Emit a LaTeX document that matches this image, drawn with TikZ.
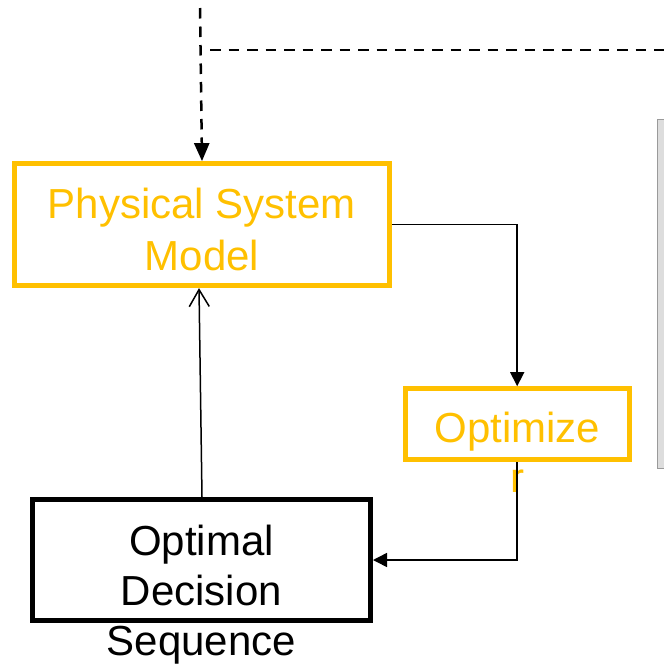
\documentclass[tikz,border=0pt]{standalone}
\usepackage{fontspec}
\setmainfont{Liberation Sans}
\usetikzlibrary{arrows.meta}
\definecolor{gold}{HTML}{FFC000}
\definecolor{panel}{HTML}{DDDDDD}
\definecolor{panelline}{HTML}{9A9A9A}
\begin{document}
\begin{tikzpicture}[x=1pt,y=-1pt,
  txt/.style={font=\fontsize{42}{50}\selectfont, align=center, inner sep=0pt},
  goldbox/.style={draw=gold, line width=5pt, text=gold, inner sep=0pt},
  blackbox/.style={draw=black, line width=5pt, inner sep=0pt},
  conn/.style={line width=1.5pt, -{Triangle[length=14pt,width=14pt]}},
  openconn/.style={line width=1.5pt, -{Straight Barb[length=17pt,width=20pt]}},
  dashconn/.style={line width=2.5pt, dash pattern=on 10.5pt off 8pt},
]
\useasboundingbox (0,0) rectangle (664,665);
% right panel (cut off by the frame)
\node[draw=panelline, fill=panel, line width=1.2pt, minimum width=30pt, minimum height=349pt, anchor=north west, inner sep=0pt] (panel) at (657,119) {};
% boxes
\node[goldbox, minimum width=375pt, minimum height=122pt] (psm) at (202,224.6) {};
\node[txt, text=gold, font=\fontsize{42}{52}\selectfont] (psmlbl) at (202,229) {Physical System\\Model};
\node[goldbox, minimum width=224pt, minimum height=71pt] (opt) at (517.2,424.2) {};
\node[txt, text=gold] (optlbl) at (517.2,452) {Optimize\\r};
\node[blackbox, minimum width=338pt, minimum height=121pt] (ods) at (201.5,560) {};
\node[txt] (odslbl) at (201.5,595) {Optimal\\Decision\\Sequence};
% connectors
\draw[conn] (psm.east) -| (opt.north);
\draw[conn] (opt.south) |- (ods.east);
\draw[openconn] ([xshift=0.5pt]ods.north) -- ([xshift=-3pt]psm.south);
% dashed lines
\coordinate (dtop) at (200,8);
\draw[dashconn, -{Triangle[length=18pt,width=15pt]}] (dtop) -- (psm.north);
\coordinate (hl) at (210,50);
\coordinate (hr) at (672,50);
\draw[dashconn] (hl) -- (hr);
\end{tikzpicture}
\end{document}
